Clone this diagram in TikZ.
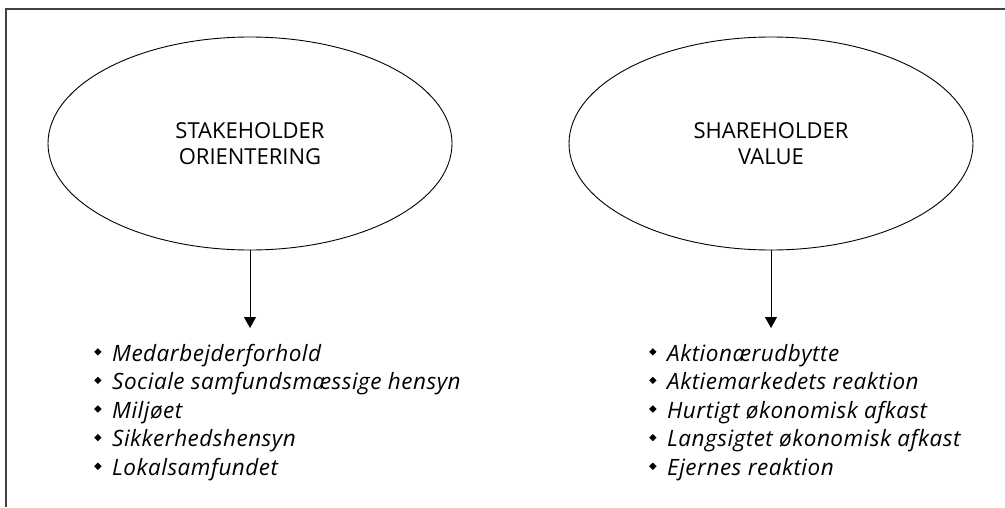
\documentclass[tikz,border=0pt]{standalone}
\usepackage{fontspec}
\setmainfont{Open Sans}
\newfontfamily\listfont[LetterSpace=2.2]{Open Sans}
\usetikzlibrary{shapes.geometric,arrows.meta}
\newcommand\listbul{\makebox[17pt][l]{\hspace{-1pt}\raisebox{5.5pt}{\rotatebox{45}{\rule{5.2pt}{5.2pt}}}}}
\tikzset{
  frameline/.style={draw=black!75, line width=1.4pt},
  ell/.style={ellipse, draw, line width=0.9pt, minimum width=404pt, minimum height=213pt, inner sep=0pt, align=center, font=\fontsize{22}{26}\selectfont, text=black},
  arr/.style={draw, line width=1pt, -{Triangle[length=11pt,width=12pt]}},
  item/.style={anchor=base west, inner sep=0pt, font=\listfont\fontsize{22.5}{26}\selectfont\itshape, text=black}
}
\begin{document}
\begin{tikzpicture}[x=1pt,y=-1pt]
\useasboundingbox (0,0) rectangle (1005,507);
\draw[frameline] (6,507) -- (6,9) -- (1005,9);
\node[ell] (e1) at (250,143.5) {STAKEHOLDER\\ORIENTERING};
\node[ell] (e2) at (771,143.5) {SHAREHOLDER\\VALUE};
\coordinate (a1) at (250,328);
\coordinate (a2) at (771,328);
\draw[arr] (e1.south) -- (a1);
\draw[arr] (e2.south) -- (a2);
\foreach \t [count=\i] in {Medarbejderforhold, Sociale samfundsmæssige hensyn, Miljøet, Sikkerhedshensyn, Lokalsamfundet}
  \node[item] (l\i) at (95,{361+28.6*(\i-1)}) {\listbul\t};
\foreach \t [count=\i] in {Aktionærudbytte, Aktiemarkedets reaktion, Hurtigt økonomisk afkast, Langsigtet økonomisk afkast, Ejernes reaktion}
  \node[item] (r\i) at (650,{361+28.6*(\i-1)}) {\listbul\t};
\end{tikzpicture}
\end{document}
